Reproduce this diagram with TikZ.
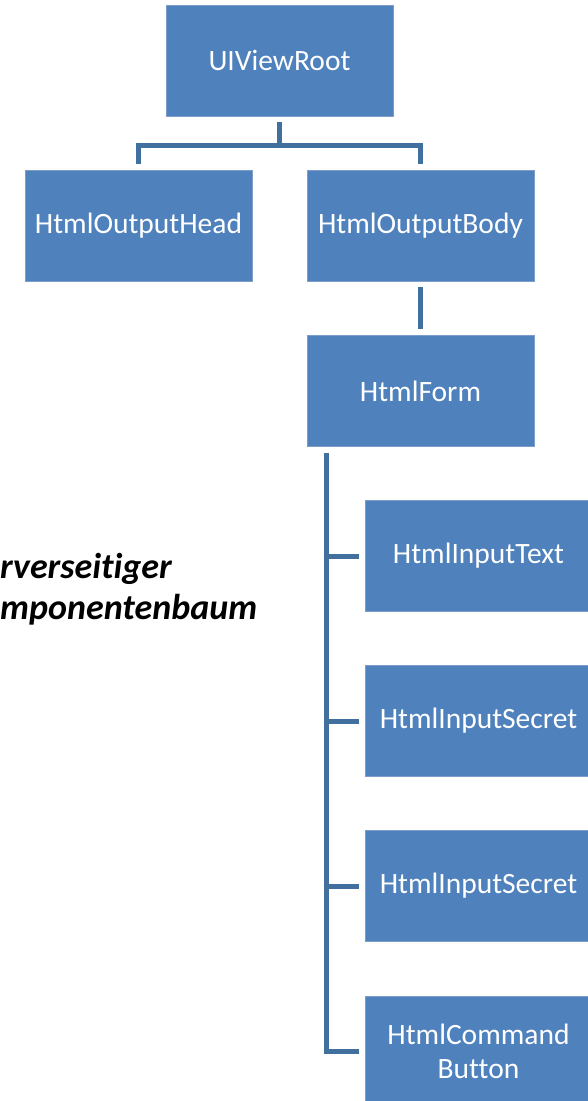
\documentclass[tikz,border=0pt]{standalone}
\usepackage{fontspec}
\setmainfont[Ligatures={NoCommon}]{Carlito}
\definecolor{boxfill}{HTML}{4F81BD}
\definecolor{boxedge}{HTML}{7C9DCB}
\definecolor{linecol}{HTML}{41709F}
\tikzset{
  box/.style={fill=boxfill, draw=boxedge, line width=0.8pt, minimum width=227pt, minimum height=111pt,
    inner sep=0pt, text=white, align=center, font=\fontsize{29.5}{34}\selectfont},
  conn/.style={draw=linecol, line width=5pt},
  title/.style={anchor=base west, inner sep=0pt, font=\fontsize{36}{42}\selectfont\bfseries\itshape},
}
\begin{document}
\begin{tikzpicture}[x=1pt,y=-1pt]
\clip (0,0) rectangle (588,1101);
\fill[white] (0,0) rectangle (588,1101);
\node[box] (root) at (279.5,60.5) {UIViewRoot};
\node[box] (head) at (138.5,225.5) {HtmlOutputHead};
\node[box] (body) at (420.5,225.5) {HtmlOutputBody};
\node[box] (form) at (420.5,391) {HtmlForm};
\node[box] (itext) at (478.5,556) {HtmlInputText};
\node[box] (isec1) at (478.5,721) {HtmlInputSecret};
\node[box] (isec2) at (478.5,886) {HtmlInputSecret};
\node[box] (btn) at (478.5,1051.5) {HtmlCommand\\Button};
\node[title] (t1) at (0,578) {rverseitiger};
\node[title] (t2) at (0,619) {mponentenbaum};
% connectors
\draw[conn] ([yshift=-6]root.south) -- ++(0,23) coordinate (hb);
\draw[conn] ([yshift=6]head.north) |- (hb) -| ([yshift=6]body.north);
\draw[conn] ([yshift=-6]body.south) -- ([yshift=6]form.north);
\coordinate (ctop) at ([xshift=20,yshift=-6]form.south west);
\draw[conn] (ctop) |- ([xshift=-6]btn.west);
\draw[conn] (ctop |- itext.west) -- ([xshift=-6]itext.west);
\draw[conn] (ctop |- isec1.west) -- ([xshift=-6]isec1.west);
\draw[conn] (ctop |- isec2.west) -- ([xshift=-6]isec2.west);
\end{tikzpicture}
\end{document}
